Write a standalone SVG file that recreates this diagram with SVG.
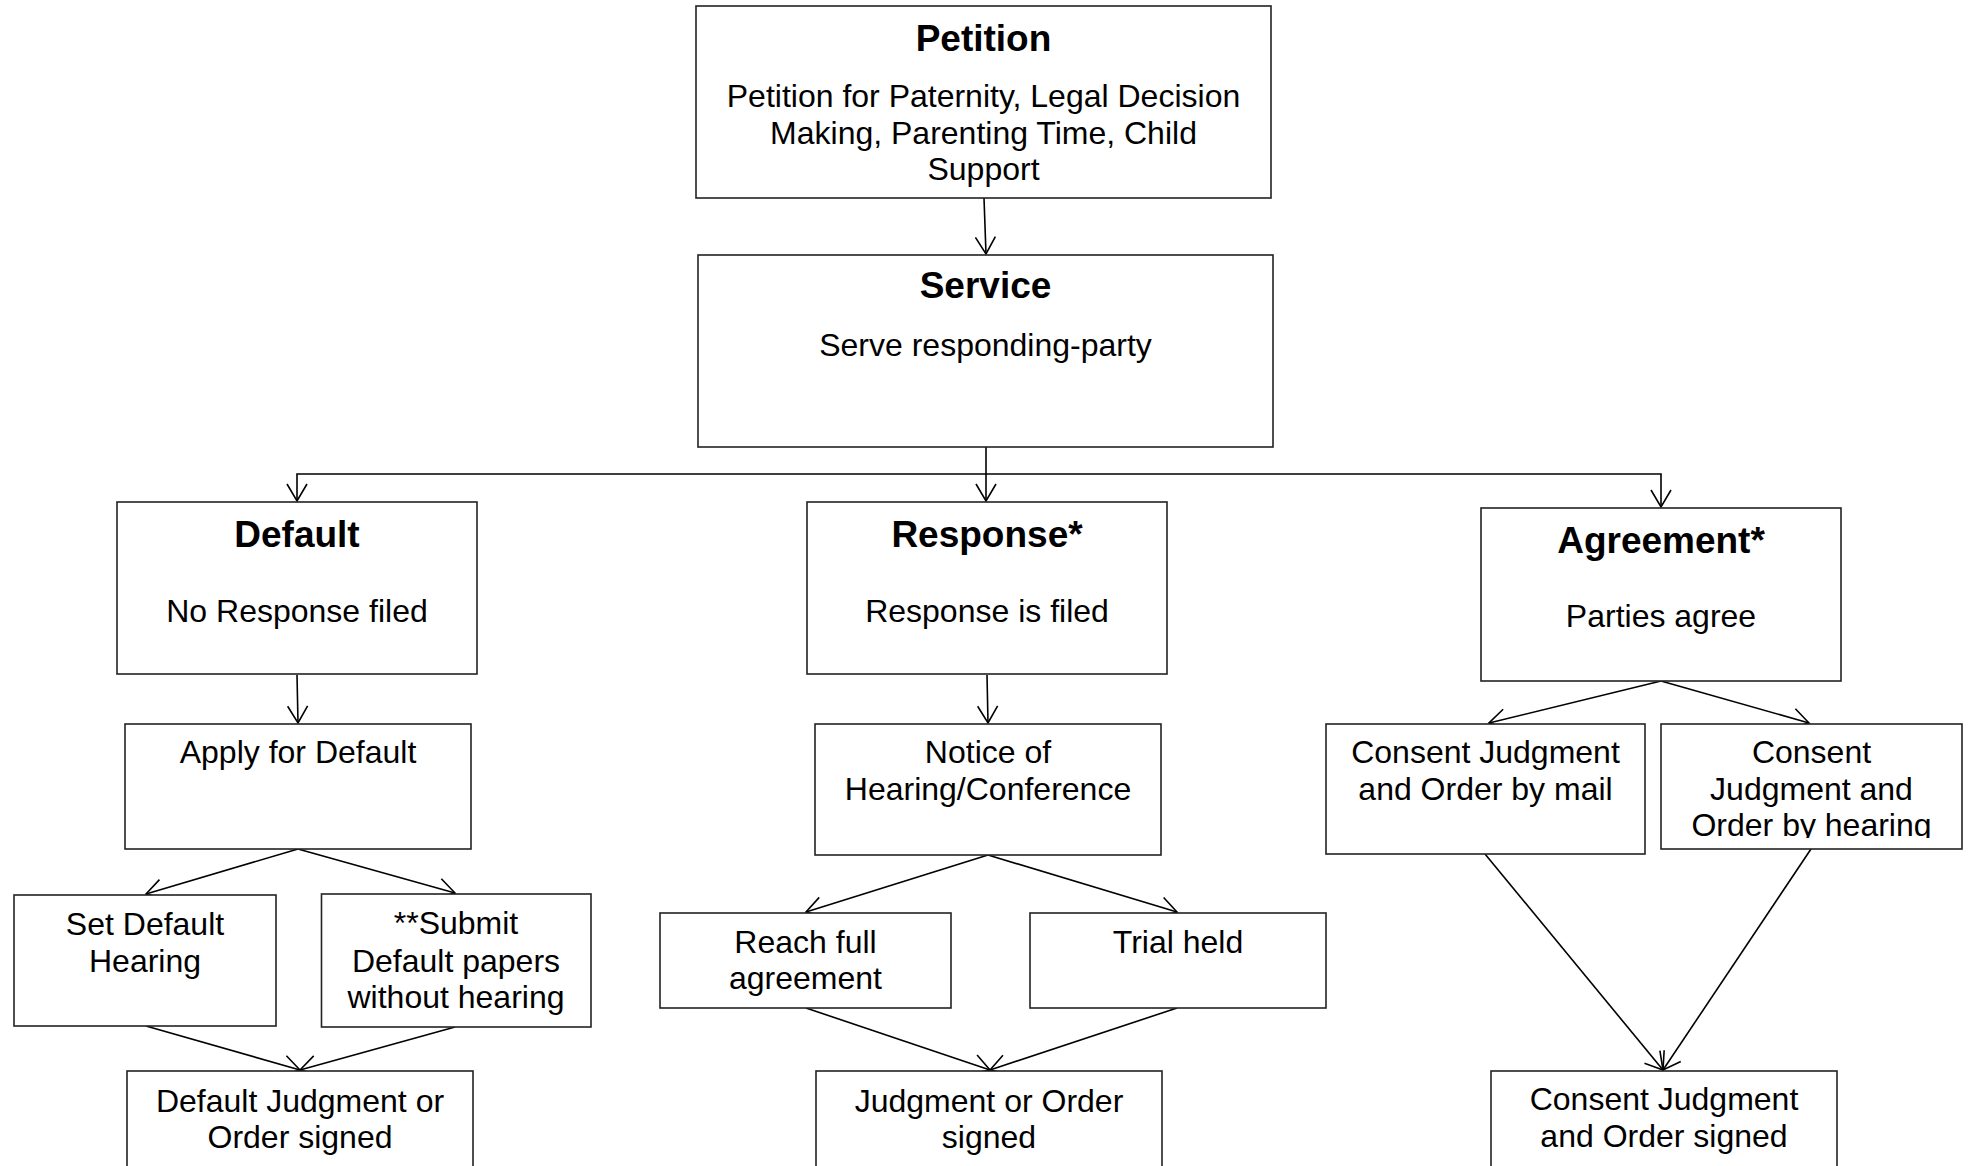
<svg xmlns="http://www.w3.org/2000/svg" width="1973" height="1166" viewBox="0 0 1973 1166">
<style>
.box{fill:#fff;stroke:#222;stroke-width:1.6}
.t{font-family:"Liberation Sans",Arial,sans-serif;font-size:37px;font-weight:bold;text-anchor:middle;fill:#000}
.b{font-family:"Liberation Sans",Arial,sans-serif;font-size:32px;text-anchor:middle;fill:#000}
.c{fill:none;stroke:#000;stroke-width:1.6}
</style>
<defs>
<marker id="arr" markerUnits="userSpaceOnUse" viewBox="-20 -12 22 24" markerWidth="22" markerHeight="24" refX="0" refY="0" orient="auto">
<path d="M-17,-10 L0,0 L-17,10" fill="none" stroke="#000" stroke-width="1.6"/>
</marker>
<clipPath id="clipHearing"><rect x="1661" y="724" width="301" height="114"/></clipPath>
</defs>
<rect width="1973" height="1166" fill="#fff"/>
<g id="connectors">
<path class="c" d="M984,198 L986,254" marker-end="url(#arr)"/>
<path class="c" d="M986,447 L986,501" marker-end="url(#arr)"/>
<path class="c" d="M986,474 H297 V501" marker-end="url(#arr)"/>
<path class="c" d="M986,474 H1661 V507" marker-end="url(#arr)"/>
<path class="c" d="M297,675 L298,723" marker-end="url(#arr)"/>
<path class="c" d="M987,675 L988,723" marker-end="url(#arr)"/>
<path class="c" d="M1661,681 L1489,723" marker-end="url(#arr)"/>
<path class="c" d="M1661,681 L1809,723" marker-end="url(#arr)"/>
<path class="c" d="M298,849 L146,894" marker-end="url(#arr)"/>
<path class="c" d="M298,849 L455,893" marker-end="url(#arr)"/>
<path class="c" d="M146,1026 L300,1070" marker-end="url(#arr)"/>
<path class="c" d="M455,1027 L300,1070" marker-end="url(#arr)"/>
<path class="c" d="M988,855 L806,912" marker-end="url(#arr)"/>
<path class="c" d="M988,855 L1177,912" marker-end="url(#arr)"/>
<path class="c" d="M806,1008 L990,1070" marker-end="url(#arr)"/>
<path class="c" d="M1177,1008 L990,1070" marker-end="url(#arr)"/>
<path class="c" d="M1485,854 L1663,1070" marker-end="url(#arr)"/>
<path class="c" d="M1811,849 L1663,1070" marker-end="url(#arr)"/>
</g>
<g id="petition">
<rect class="box" x="696" y="6" width="575" height="192"/>
<text class="t" x="983.5" y="51">Petition</text>
<text class="b" x="983.5" y="107">Petition for Paternity, Legal Decision</text>
<text class="b" x="983.5" y="144">Making, Parenting Time, Child</text>
<text class="b" x="983.5" y="180">Support</text>
</g>
<g id="service">
<rect class="box" x="698" y="255" width="575" height="192"/>
<text class="t" x="985.5" y="298">Service</text>
<text class="b" x="985.5" y="356">Serve responding-party</text>
</g>
<g id="default">
<rect class="box" x="117" y="502" width="360" height="172"/>
<text class="t" x="297" y="547">Default</text>
<text class="b" x="297" y="622">No Response filed</text>
</g>
<g id="response">
<rect class="box" x="807" y="502" width="360" height="172"/>
<text class="t" x="987" y="547">Response*</text>
<text class="b" x="987" y="622">Response is filed</text>
</g>
<g id="agreement">
<rect class="box" x="1481" y="508" width="360" height="173"/>
<text class="t" x="1661" y="553">Agreement*</text>
<text class="b" x="1661" y="627">Parties agree</text>
</g>
<g id="apply-default">
<rect class="box" x="125" y="724" width="346" height="125"/>
<text class="b" x="298" y="763">Apply for Default</text>
</g>
<g id="notice">
<rect class="box" x="815" y="724" width="346" height="131"/>
<text class="b" x="988" y="763">Notice of</text>
<text class="b" x="988" y="800">Hearing/Conference</text>
</g>
<g id="consent-mail">
<rect class="box" x="1326" y="724" width="319" height="130"/>
<text class="b" x="1485.5" y="763">Consent Judgment</text>
<text class="b" x="1485.5" y="800">and Order by mail</text>
</g>
<g id="consent-hearing">
<rect class="box" x="1661" y="724" width="301" height="125"/>
<g clip-path="url(#clipHearing)">
<text class="b" x="1811.5" y="763">Consent</text>
<text class="b" x="1811.5" y="800">Judgment and</text>
<text class="b" x="1811.5" y="836">Order by hearing</text>
</g>
</g>
<g id="set-default-hearing">
<rect class="box" x="14" y="895" width="262" height="131"/>
<text class="b" x="145" y="935">Set Default</text>
<text class="b" x="145" y="972">Hearing</text>
</g>
<g id="submit-default">
<rect class="box" x="321.5" y="894" width="269.5" height="133"/>
<text class="b" x="456" y="934">**Submit</text>
<text class="b" x="456" y="972">Default papers</text>
<text class="b" x="456" y="1008">without hearing</text>
</g>
<g id="reach-agreement">
<rect class="box" x="660" y="913" width="291" height="95"/>
<text class="b" x="805.5" y="953">Reach full</text>
<text class="b" x="805.5" y="989">agreement</text>
</g>
<g id="trial-held">
<rect class="box" x="1030" y="913" width="296" height="95"/>
<text class="b" x="1178" y="953">Trial held</text>
</g>
<g id="default-judgment">
<rect class="box" x="127" y="1071" width="346" height="130"/>
<text class="b" x="300" y="1112">Default Judgment or</text>
<text class="b" x="300" y="1148">Order signed</text>
</g>
<g id="judgment-order">
<rect class="box" x="816" y="1071" width="346" height="130"/>
<text class="b" x="989" y="1112">Judgment or Order</text>
<text class="b" x="989" y="1148">signed</text>
</g>
<g id="consent-signed">
<rect class="box" x="1491" y="1071" width="346" height="130"/>
<text class="b" x="1664" y="1110">Consent Judgment</text>
<text class="b" x="1664" y="1147">and Order signed</text>
</g>
</svg>
